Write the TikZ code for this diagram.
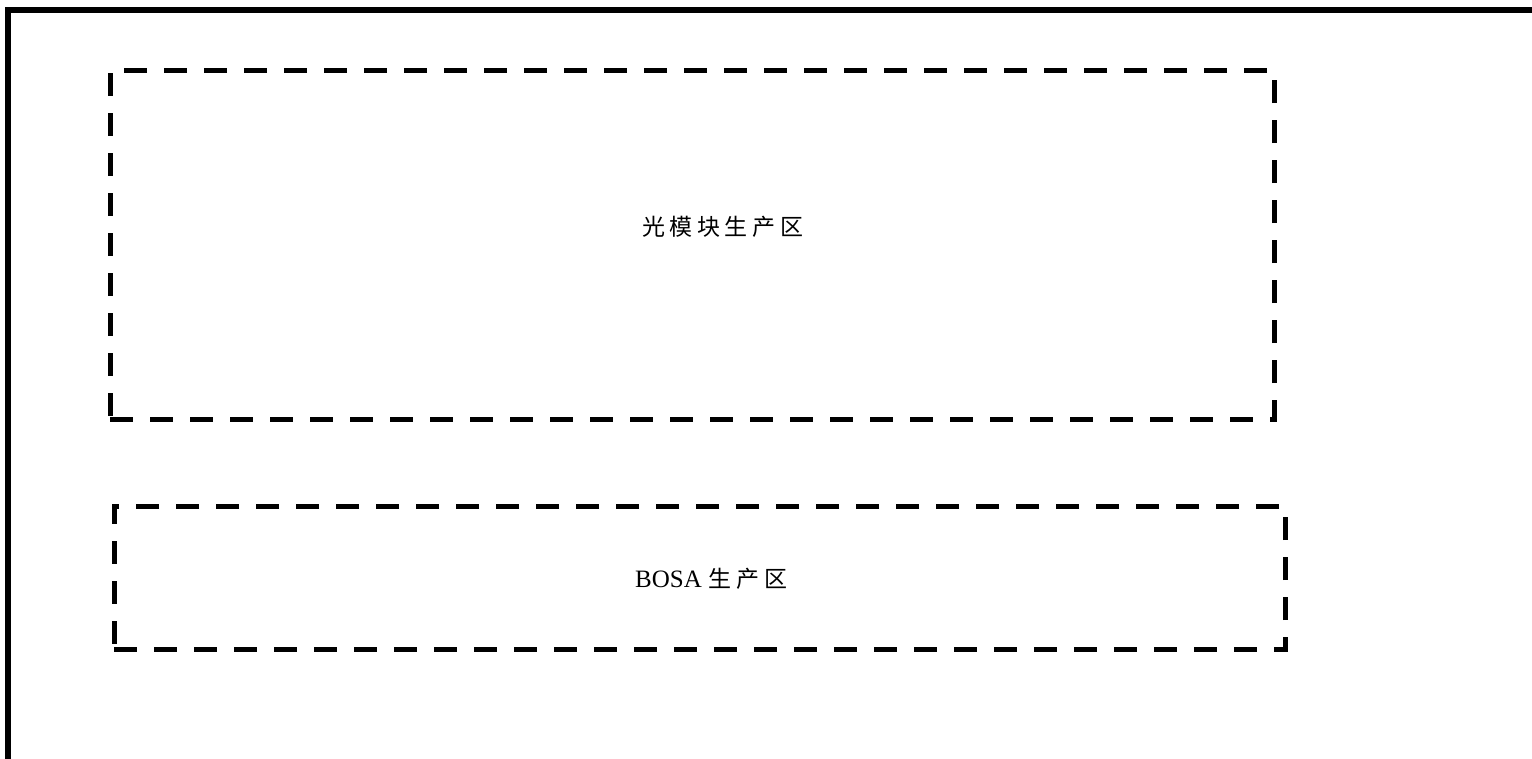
\documentclass[tikz,border=0pt]{standalone}
\usepackage{fontspec}
\setmainfont{Liberation Serif}
\newfontfamily\cjk[LetterSpace=20]{Noto Sans CJK SC}
\begin{document}
\begin{tikzpicture}[x=1pt,y=-1pt,
  zone/.style={draw=black,line width=5pt,dash pattern=on 23pt off 17pt},
  frameline/.style={draw=black,line width=5.5pt},
  label/.style={inner sep=0pt,anchor=west}]
\useasboundingbox (0,0) rectangle (1532,758);
\fill[white] (0,0) rectangle (1532,758);
\coordinate (fbl) at (8,760);
\coordinate (ftl) at (8,10);
\coordinate (ftr) at (1534,10);
\draw[frameline] (fbl) -- (ftl) -- (ftr);
\node[zone,minimum width=1164pt,minimum height=349pt,inner sep=0pt] (opt) at (692,244.5) {};
\node[zone,minimum width=1171pt,minimum height=143pt,inner sep=0pt] (bosa) at (699.5,577.5) {};
\node[label] (optlabel) at (642,227) {\fontsize{23pt}{28pt}\selectfont\cjk 光模块生产区};
\node[label] (bosalabel) at (635,579) {\fontsize{25pt}{30pt}\selectfont BOSA\hspace{7pt}{\fontsize{23pt}{28pt}\selectfont\cjk 生产区}};
\end{tikzpicture}
\end{document}
